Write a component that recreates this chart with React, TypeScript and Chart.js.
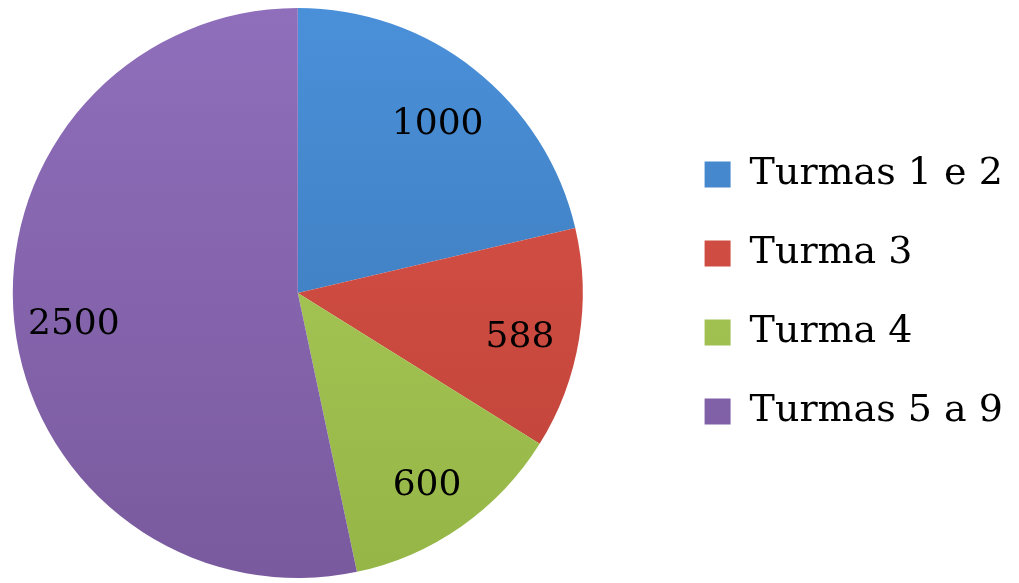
import React, { useEffect, useRef } from "react";
import { Chart, registerables } from "chart.js";

Chart.register(...registerables);

const categories = ["Turmas 1 e 2", "Turma 3", "Turma 4", "Turmas 5 a 9"];
const values = [1000, 588, 600, 2500];
const topColors = ["#4A90D9", "#DB5449", "#AECF5E", "#8F6EBB"];
const bottomColors = ["#3A74B2", "#BE4238", "#95B546", "#7A5A9E"];
const midColors = ["#4283C8", "#CE4C42", "#A2C352", "#8464AD"];

const valueLabels = {
  id: "valueLabels",
  afterDatasetsDraw(chart: any) {
    const ctx = chart.ctx;
    const meta = chart.getDatasetMeta(0);
    const data = chart.data.datasets[0].data;
    ctx.save();
    ctx.font = '36px "DejaVu Serif"';
    ctx.fillStyle = "#000";
    ctx.textAlign = "center";
    ctx.textBaseline = "middle";
    meta.data.forEach((arc: any, i: number) => {
      const { x, y, startAngle, endAngle, outerRadius } = arc.getProps(
        ["x", "y", "startAngle", "endAngle", "outerRadius"],
        true
      );
      const mid = (startAngle + endAngle) / 2;
      const r = outerRadius * 0.79;
      ctx.fillText(String(data[i]), x + Math.cos(mid) * r, y + Math.sin(mid) * r + 8);
    });
    ctx.restore();
  },
};

const SHIFT = 68;

export default function App() {
  const ref = useRef<HTMLCanvasElement | null>(null);
  useEffect(() => {
    if (!ref.current) return;
    const chart = new Chart(ref.current, {
      type: "pie",
      data: {
        labels: categories,
        datasets: [
          {
            data: values,
            borderWidth: 0,
            backgroundColor: (c: any) => {
              const ch = c.chart;
              const area = ch.chartArea;
              const i = c.dataIndex ?? 0;
              if (!area || c.type !== "data") return midColors[i];
              const g = ch.ctx.createLinearGradient(0, area.top, 0, area.bottom);
              g.addColorStop(0, topColors[i]);
              g.addColorStop(1, bottomColors[i]);
              return g;
            },
          },
        ],
      },
      options: {
        animation: false,
        responsive: false,
        maintainAspectRatio: false,
        layout: { padding: { left: 0, top: 8, bottom: 5, right: 6 } },
        plugins: {
          legend: {
            position: "right",
            labels: {
              boxWidth: 26,
              boxHeight: 26,
              padding: 41,
              color: "#000",
              font: { family: "DejaVu Serif", size: 38 },
            },
          },
          tooltip: { enabled: false },
        },
      },
      plugins: [valueLabels],
    });
    return () => chart.destroy();
  }, []);
  return (
    <div
      style={{
        position: "fixed",
        left: 0,
        top: 0,
        width: 1019,
        height: 583,
        overflow: "hidden",
        background: "#fff",
      }}
    >
      <canvas
        ref={ref}
        width={1019 + SHIFT}
        height={583}
        style={{ display: "block", marginLeft: -SHIFT }}
      />
    </div>
  );
}
